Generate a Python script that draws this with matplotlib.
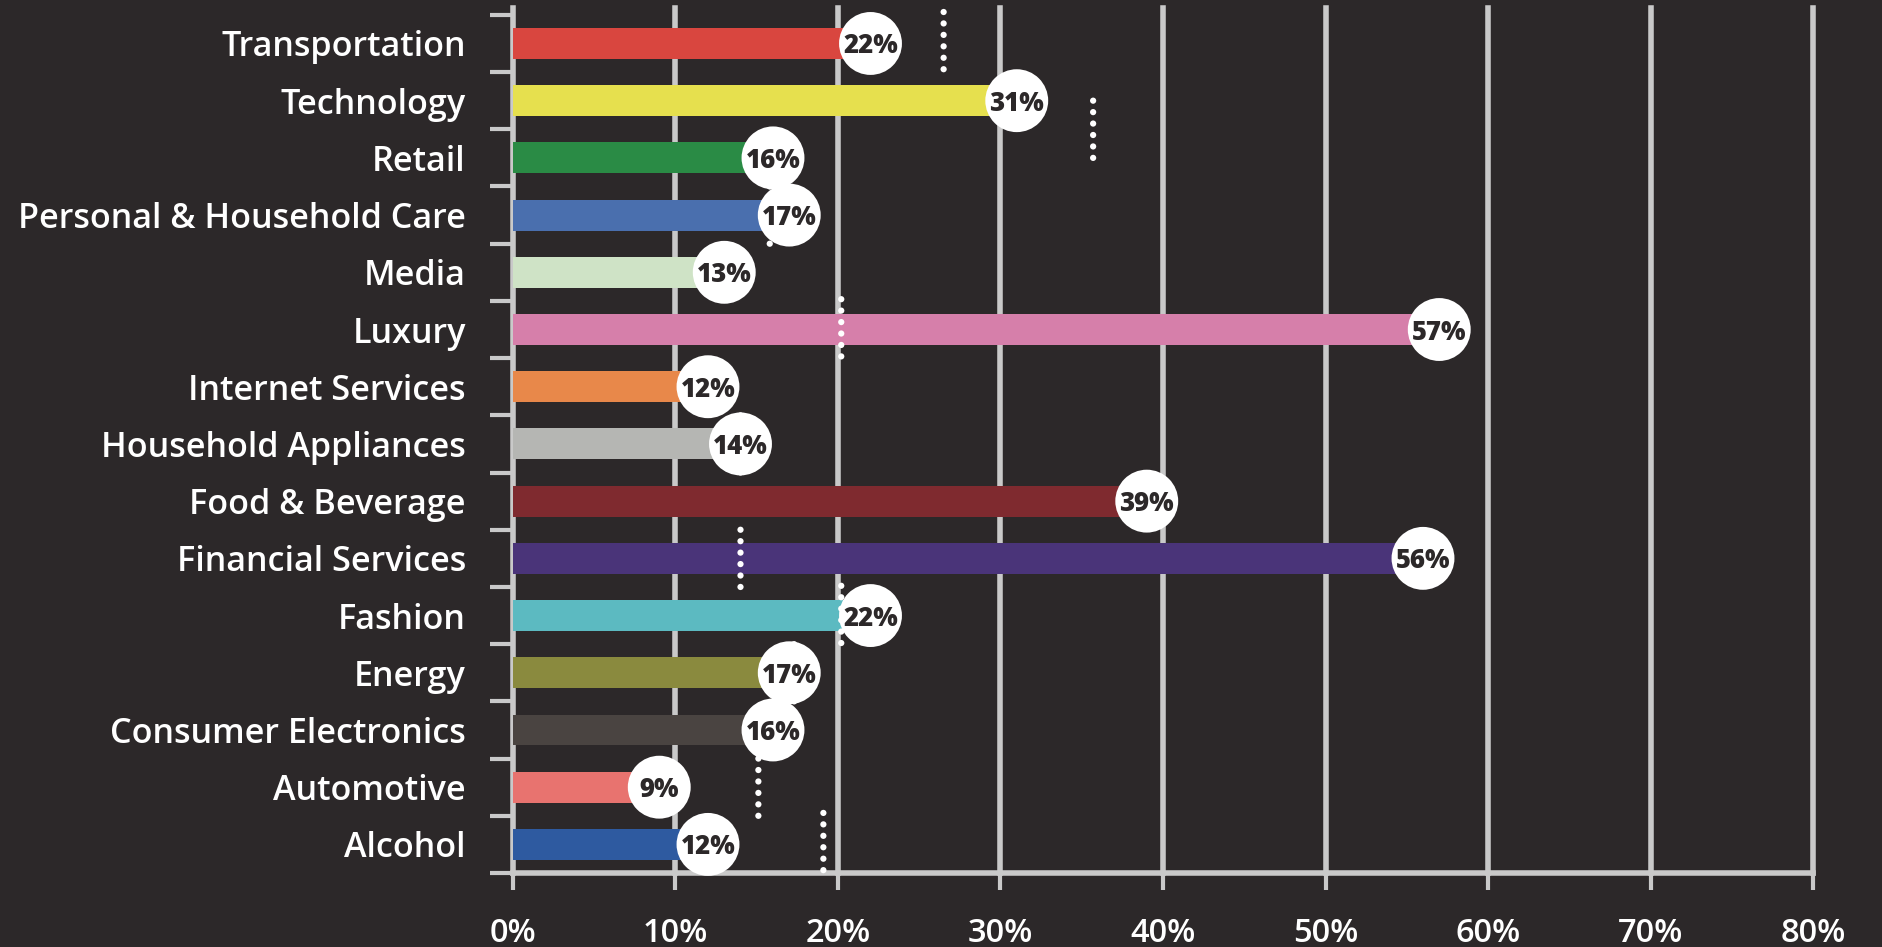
import numpy as np
import matplotlib
matplotlib.use("Agg")
import matplotlib.pyplot as plt

plt.rcParams['font.family'] = ['Open Sans', 'DejaVu Sans']

categories = ["Transportation", "Technology", "Retail", "Personal & Household Care",
              "Media", "Luxury", "Internet Services", "Household Appliances",
              "Food & Beverage", "Financial Services", "Fashion", "Energy",
              "Consumer Electronics", "Automotive", "Alcohol"]
values = [22, 31, 16, 17, 13, 57, 12, 14, 39, 56, 22, 17, 16, 9, 12]
colors = ["#D9463F", "#E6E04E", "#2A8B45", "#4A6FAE", "#CFE3C6", "#D67FAA",
          "#E8884A", "#B5B6B3", "#7F2A2F", "#4A3479", "#5CBAC1", "#8A8A3E",
          "#4A4441", "#E8736F", "#2E5AA0"]
# dotted benchmark markers (NaN = not shown)
benchmarks = [26.5, 35.7, np.nan, 15.8, np.nan, 20.2, np.nan, 14.0,
              np.nan, 14.0, 20.2, 17.3, np.nan, 15.1, 19.1]
bench_offset = [-0.05, 0.5, 0, 0, 0, -0.03, 0, 0, 0, 0, -0.02, 0, 0, 0, -0.05]
xticks = [0, 10, 20, 30, 40, 50, 60, 70, 80]
xticklabels = ["0%", "10%", "20%", "30%", "40%", "50%", "60%", "70%", "80%"]

bg = "#2C2829"
grid = "#C9C9C9"

W, H = 1883, 947
fig = plt.figure(figsize=(W / 100, H / 100), dpi=100, facecolor=bg)
ax = fig.add_axes([513 / W, 74 / H, 1300 / W, 865 / H])
ax.set_facecolor(bg)
ax.set_xlim(0, 80)
n = len(categories)
ax.set_ylim(n, -0.12)

centers = np.arange(n) + 0.5

for x in xticks:
    ax.axvline(x, color=grid, lw=4, zorder=1, clip_on=False)
ax.axhline(n, color=grid, lw=4, zorder=1, clip_on=False)

ax.barh(centers, values, height=0.54, color=colors, zorder=2)

for i, b in enumerate(benchmarks):
    if np.isnan(b):
        continue
    ys = centers[i] + bench_offset[i] + np.linspace(-0.5, 0.5, 6)
    ax.scatter(np.full(6, b), ys, s=20, color="white", zorder=3,
               edgecolors="none", clip_on=False)

ax.scatter(values, centers, s=2050, color="white", zorder=4, edgecolors="none",
           clip_on=False)
for v, c in zip(values, centers):
    ax.text(v, c, f"{v}%", ha="center", va="center_baseline", fontsize=18.5,
            fontweight="heavy", color="#2C2829", zorder=5)

for s in ax.spines.values():
    s.set_visible(False)

ax.set_xticks(xticks)
ax.set_xticklabels(xticklabels)
ax.tick_params(axis="x", length=12, width=3, color=grid, direction="out",
               pad=20, labelsize=23.5, labelcolor="white")

ax.set_yticks(np.arange(n + 1))
ax.set_yticklabels([])
ax.tick_params(axis="y", which="major", length=16.5, width=3, color=grid,
               direction="out")
ax.set_yticks(centers, minor=True)
ax.set_yticklabels(categories, minor=True)
ax.tick_params(axis="y", which="minor", length=0, pad=34, labelsize=24.6,
               labelcolor="white")
for lab in ax.get_yticklabels(minor=True):
    lab.set_fontweight("semibold")
for lab in ax.get_xticklabels():
    lab.set_fontweight("semibold")

fig.savefig("out.png", dpi=100, facecolor=bg)
